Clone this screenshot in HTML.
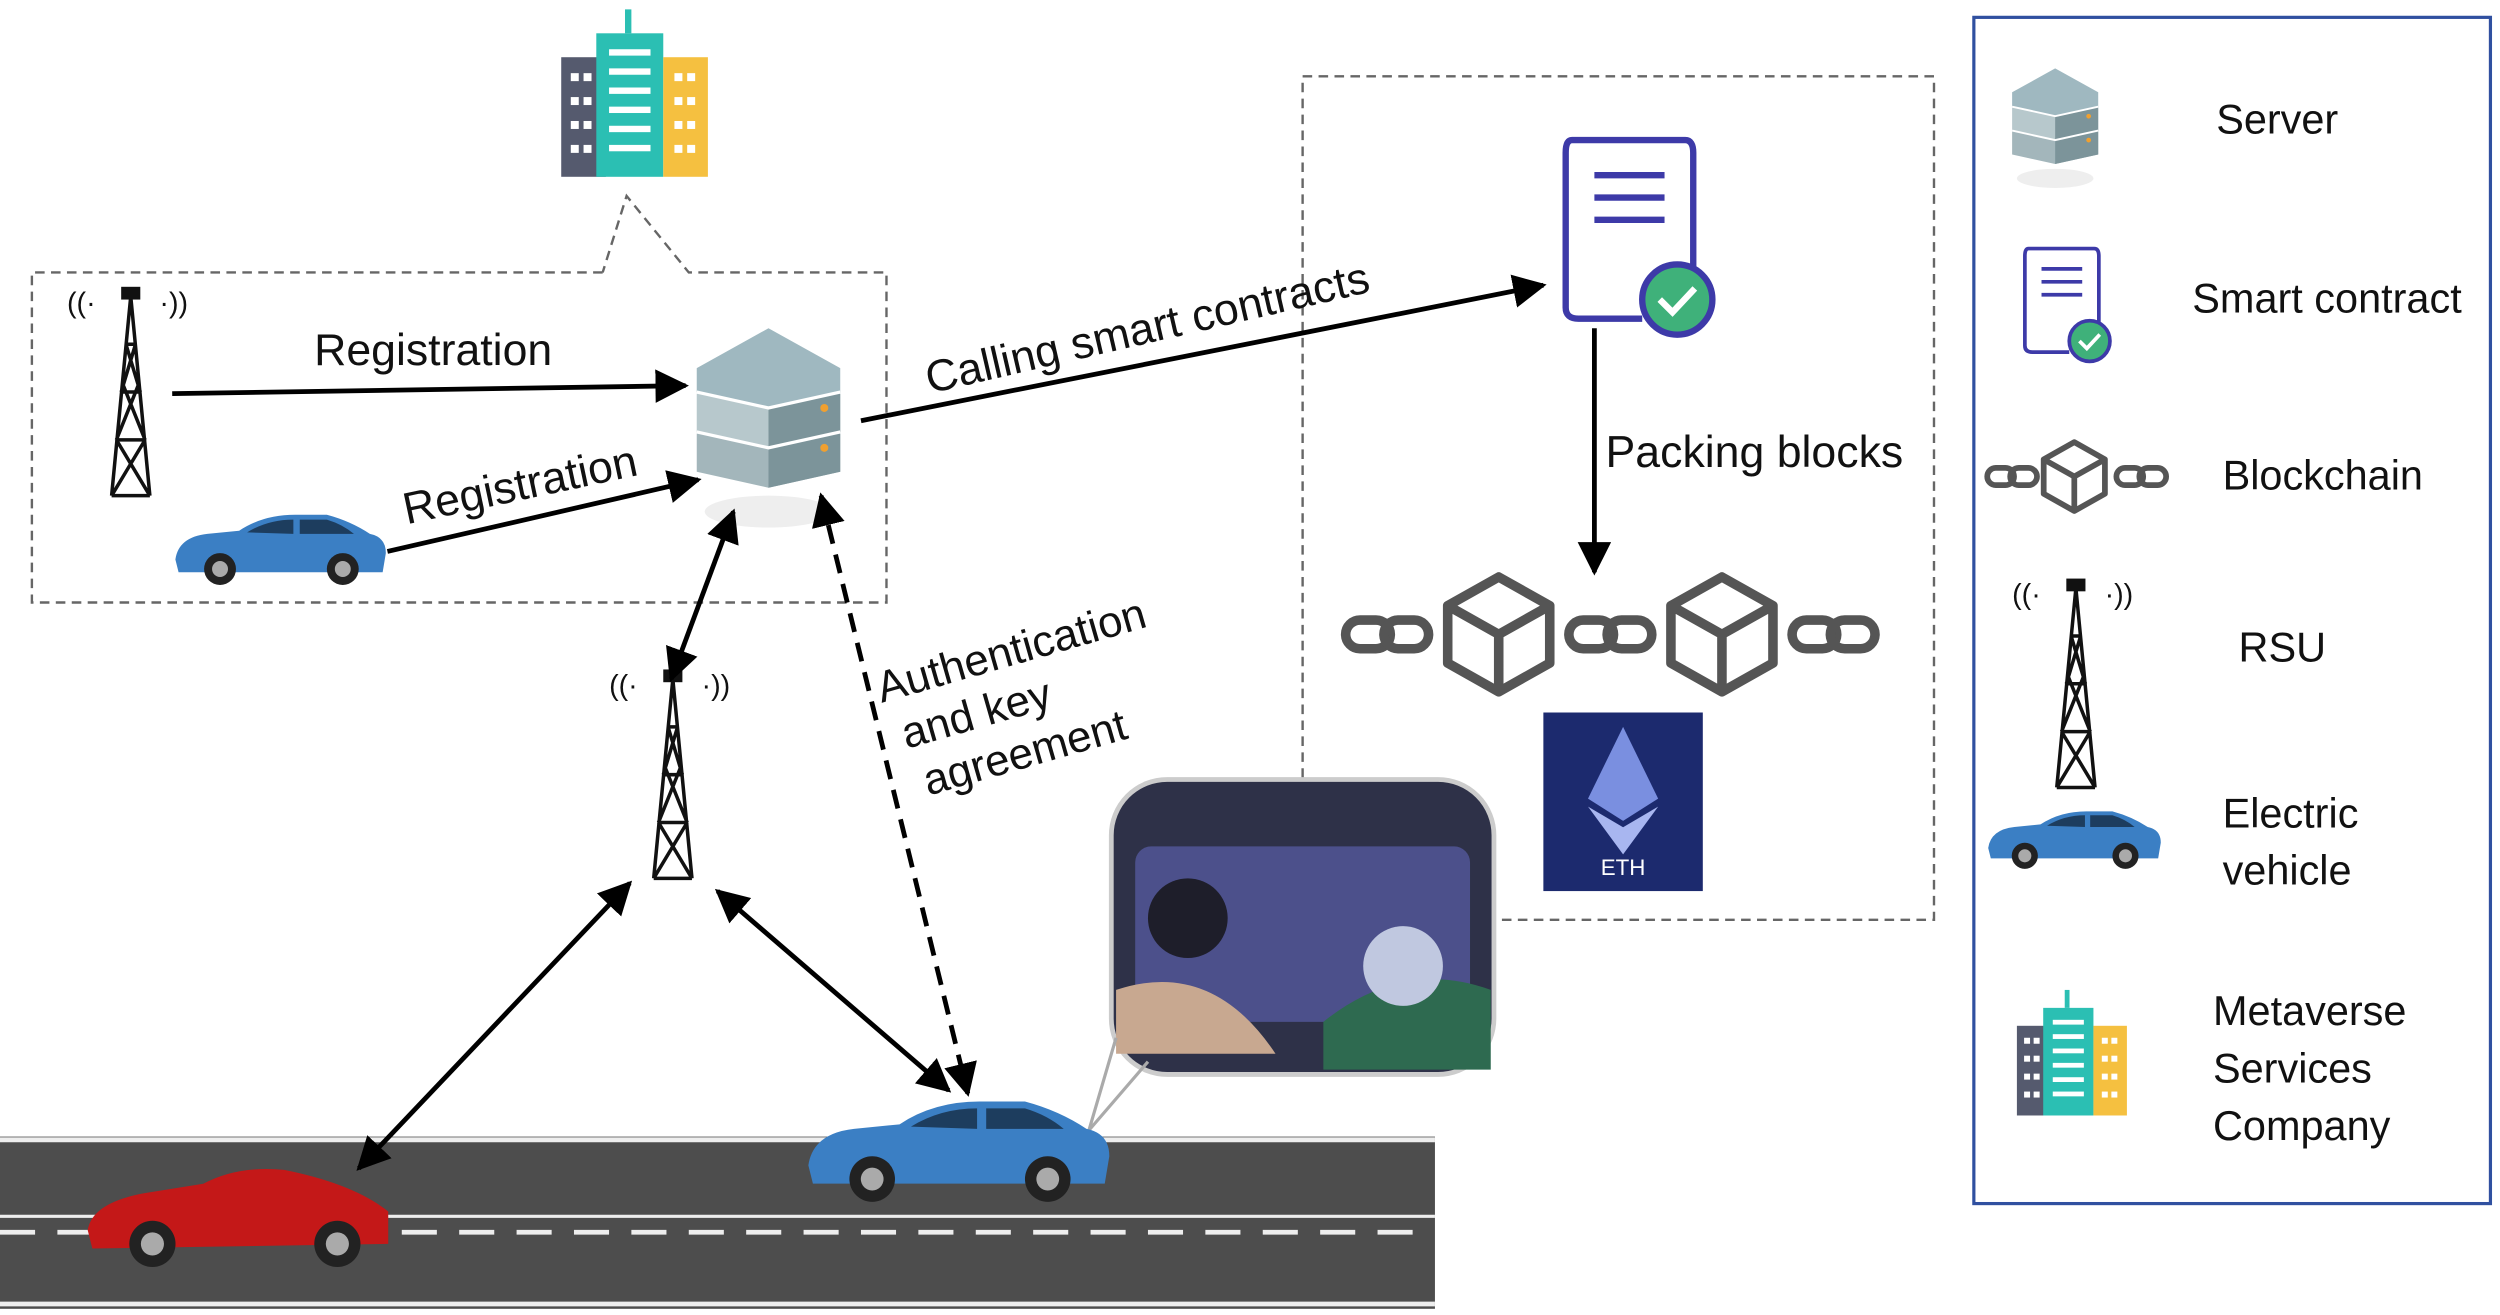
<!DOCTYPE html>
<html><head><meta charset="utf-8"><style>
html,body{margin:0;padding:0;background:#fff;}
svg{display:block;}
text{font-family:"Liberation Sans",Arial,sans-serif;fill:#111;}
</style></head><body>
<svg width="2500" height="1315" viewBox="0 0 1568 823" xmlns="http://www.w3.org/2000/svg">
<defs>
<marker id="ah" viewBox="0 0 10 10" refX="9" refY="5" markerWidth="7" markerHeight="7" orient="auto-start-reverse"><path d="M0,0 L10,5 L0,10 Z" fill="#000"/></marker>
<g id="tower">
<path d="M0,0 L-12,125 M0,0 L12,125 M-6,60 L6,60 M-9,90 L9,90 M-3,30 L3,30 M-5,55 L9,90 M5,55 L-9,90 M-3,30 L6,60 M3,30 L-6,60 M-9,90 L12,125 M9,90 L-12,125 M-12,125 L12,125" stroke="#111" stroke-width="2.2" fill="none"/>
<rect x="-6" y="-6" width="12" height="8" fill="#111"/>
<text x="-40" y="10" font-size="18" fill="#222">((·</text>
<text x="18" y="10" font-size="18" fill="#222">·))</text>
</g>
<g id="car">
<path d="M0,28 Q2,14 20,12 L40,10 Q55,0 75,0 L95,0 Q110,4 122,12 Q132,14 132,24 L130,36 L2,36 Z" fill="#3b7fc4"/>
<path d="M45,11 Q58,3 74,3 L74,12 Z M78,3 L95,3 Q105,6 112,12 L78,12 Z" fill="#1d3d5e"/>
<circle cx="28" cy="34" r="10" fill="#222"/><circle cx="28" cy="34" r="5" fill="#aaa"/>
<circle cx="105" cy="34" r="10" fill="#222"/><circle cx="105" cy="34" r="5" fill="#aaa"/>
</g>
<g id="server">
<ellipse cx="45" cy="115" rx="40" ry="10" fill="#eee"/>
<path d="M0,25 L45,0 L90,25 L90,40 L45,50 L0,40 Z" fill="#9fb8c0"/>
<path d="M0,40 L45,50 L90,40 L90,65 L45,75 L0,65 Z" fill="#b7c8cc"/>
<path d="M0,65 L45,75 L90,65 L90,90 L45,100 L0,90 Z" fill="#a3b6bb"/>
<path d="M45,50 L90,40 L90,65 L45,75 Z M45,75 L90,65 L90,90 L45,100 Z" fill="#7c949a"/>
<path d="M0,40 L45,50 L90,40 M0,65 L45,75 L90,65" stroke="#fff" stroke-width="2" fill="none"/>
<circle cx="80" cy="50" r="2.5" fill="#f0a030"/><circle cx="80" cy="75" r="2.5" fill="#f0a030"/>
</g>
<g id="bldg">
<rect x="0" y="30" width="28" height="75" fill="#555a6e"/>
<rect x="22" y="15" width="42" height="90" fill="#2bbfb3"/>
<rect x="40" y="0" width="4" height="15" fill="#2bbfb3"/>
<rect x="64" y="30" width="28" height="75" fill="#f5c040"/>
<g fill="#fff"><rect x="30" y="25" width="26" height="4"/><rect x="30" y="37" width="26" height="4"/><rect x="30" y="49" width="26" height="4"/><rect x="30" y="61" width="26" height="4"/><rect x="30" y="73" width="26" height="4"/><rect x="30" y="85" width="26" height="4"/>
<rect x="6" y="40" width="5" height="5"/><rect x="14" y="40" width="5" height="5"/><rect x="6" y="55" width="5" height="5"/><rect x="14" y="55" width="5" height="5"/><rect x="6" y="70" width="5" height="5"/><rect x="14" y="70" width="5" height="5"/><rect x="6" y="85" width="5" height="5"/><rect x="14" y="85" width="5" height="5"/>
<rect x="71" y="40" width="5" height="5"/><rect x="79" y="40" width="5" height="5"/><rect x="71" y="55" width="5" height="5"/><rect x="79" y="55" width="5" height="5"/><rect x="71" y="70" width="5" height="5"/><rect x="79" y="70" width="5" height="5"/><rect x="71" y="85" width="5" height="5"/><rect x="79" y="85" width="5" height="5"/></g>
</g>
<g id="contract">
<path d="M4,0 L75,0 Q80,0 80,8 L80,80 M4,0 Q0,0 0,8 L0,105 Q0,112 8,112 L48,112" stroke="#3d3aa8" stroke-width="4" fill="none"/>
<path d="M18,22 L62,22 M18,36 L62,36 M18,50 L62,50" stroke="#3d3aa8" stroke-width="4"/>
<circle cx="70" cy="100" r="22" fill="#3fb17a" stroke="#3d3aa8" stroke-width="4"/>
<path d="M59,100 L67,108 L81,93" stroke="#fff" stroke-width="4" fill="none"/>
</g>
<g id="cube" stroke="#555" stroke-width="6" fill="none" stroke-linejoin="round">
<path d="M0,-36 L32,-18 L32,18 L0,36 L-32,18 L-32,-18 Z M-32,-18 L0,0 L32,-18 M0,0 L0,36"/>
</g>
<g id="link" stroke="#555" stroke-width="6" fill="none"><rect x="-26" y="-9" width="28" height="18" rx="9"/><rect x="-2" y="-9" width="28" height="18" rx="9"/></g>
</defs>

<!-- road -->
<rect x="0" y="712" width="900" height="108" fill="#4d4d4d"/>
<line x1="0" y1="714" x2="900" y2="714" stroke="#eee" stroke-width="3"/>
<line x1="0" y1="762" x2="900" y2="762" stroke="#eee" stroke-width="2"/>
<line x1="0" y1="772" x2="900" y2="772" stroke="#eee" stroke-width="3" stroke-dasharray="22,14"/>
<line x1="0" y1="817" x2="900" y2="817" stroke="#eee" stroke-width="3"/>

<!-- dashed boxes -->
<path d="M378,170 L20,170 L20,377 L556,377 L556,170 L432,170 L393,122 L378,170" stroke="#666" stroke-width="1.5" stroke-dasharray="6,4" fill="none"/>
<rect x="817" y="47" width="396" height="529" stroke="#666" stroke-width="1.5" stroke-dasharray="6,4" fill="none"/>
<rect x="1238" y="10" width="324" height="744" stroke="#3050a0" stroke-width="2" fill="none"/>

<use href="#bldg" x="352" y="5"/>
<use href="#tower" x="82" y="185"/>
<use href="#car" x="110" y="322"/>
<use href="#server" x="437" y="205"/>
<use href="#tower" x="422" y="425"/>
<use href="#contract" x="982" y="87"/>
<use href="#link" x="870" y="397"/>
<use href="#cube" x="940" y="397"/>
<use href="#link" x="1010" y="397"/>
<use href="#cube" x="1080" y="397"/>
<use href="#link" x="1150" y="397"/>
<rect x="968" y="446" width="100" height="112" fill="#1c2a6e"/>
<path d="M1018,455 L1040,500 L1018,514 L996,500 Z" fill="#7a8fe0"/>
<path d="M996,505 L1018,518 L1040,505 L1018,535 Z" fill="#a8b6f0"/>
<text x="1018" y="548" font-size="14" text-anchor="middle" style="fill:#fff">ETH</text>

<!-- VR photo -->
<rect x="697" y="488" width="240" height="185" rx="35" fill="#2e3148" stroke="#ccc" stroke-width="3"/>
<rect x="712" y="530" width="210" height="110" rx="10" fill="#5a5ea8" opacity="0.7"/>
<path d="M700,620 Q760,600 800,660 L700,660 Z" fill="#c8a890"/>
<path d="M830,640 Q880,600 935,620 L935,670 L830,670 Z" fill="#2e6a50"/>
<circle cx="745" cy="575" r="25" fill="#1e1e2a"/><circle cx="880" cy="605" r="25" fill="#c0c8e0"/>
<path d="M683,708 L700,650 M683,708 L720,665" stroke="#aaa" stroke-width="2"/>

<!-- cars on road -->
<g transform="translate(55,730) scale(1.45)"><path d="M0,28 Q2,16 25,12 L50,8 Q65,0 85,2 Q115,8 130,20 L130,34 L2,36 Z" fill="#c41818"/><circle cx="28" cy="34" r="10" fill="#222"/><circle cx="28" cy="34" r="5" fill="#aaa"/><circle cx="108" cy="34" r="10" fill="#222"/><circle cx="108" cy="34" r="5" fill="#aaa"/></g>
<g transform="translate(507,690) scale(1.43)"><use href="#car"/></g>

<!-- arrows -->
<g stroke="#000" stroke-width="3" fill="none" marker-end="url(#ah)">
<line x1="108" y1="246" x2="430" y2="241"/>
<line x1="243" y1="345" x2="438" y2="300"/>
<line x1="540" y1="263" x2="968" y2="178"/>
<line x1="1000" y1="205" x2="1000" y2="358"/>
<line x1="460" y1="320" x2="421" y2="425" marker-start="url(#ah)"/>
<line x1="515" y1="310" x2="607" y2="685" stroke-dasharray="12,7" marker-start="url(#ah)"/>
<line x1="395" y1="553" x2="225" y2="732" marker-start="url(#ah)"/>
<line x1="450" y1="558" x2="595" y2="683" marker-start="url(#ah)"/>
</g>

<text x="197" y="228" font-size="28">Registration</text>
<text font-size="28" transform="translate(255,328) rotate(-12)">Registration</text>
<text font-size="28" transform="translate(583,246) rotate(-13)">Calling smart contracts</text>
<text x="1007" y="292" font-size="28">Packing blocks</text>
<g font-size="27.5" transform="rotate(-16 553 440)"><text x="553" y="440">Authentication</text><text x="560" y="472">and key</text><text x="565" y="504">agreement</text></g>

<!-- legend -->
<g transform="translate(1262,42) scale(0.6)"><use href="#server"/></g>
<g transform="translate(1270,155) scale(0.58)"><use href="#contract"/></g>
<g transform="translate(1262,298) scale(0.6)"><use href="#link" x="0"/><use href="#cube" x="65"/><use href="#link" x="135"/></g>
<use href="#tower" x="1302" y="368"/>
<g transform="translate(1247,508) scale(0.82)"><use href="#car"/></g>
<g transform="translate(1265,620) scale(0.75)"><use href="#bldg"/></g>
<g font-size="26">
<text x="1390" y="83">Server</text>
<text x="1375" y="195">Smart contract</text>
<text x="1394" y="306">Blockchain</text>
<text x="1404" y="414">RSU</text>
<text x="1394" y="518">Electric</text><text x="1394" y="554">vehicle</text>
<text x="1388" y="642">Metaverse</text><text x="1388" y="678">Services</text><text x="1388" y="714">Company</text>
</g>
</svg>
</body></html>
